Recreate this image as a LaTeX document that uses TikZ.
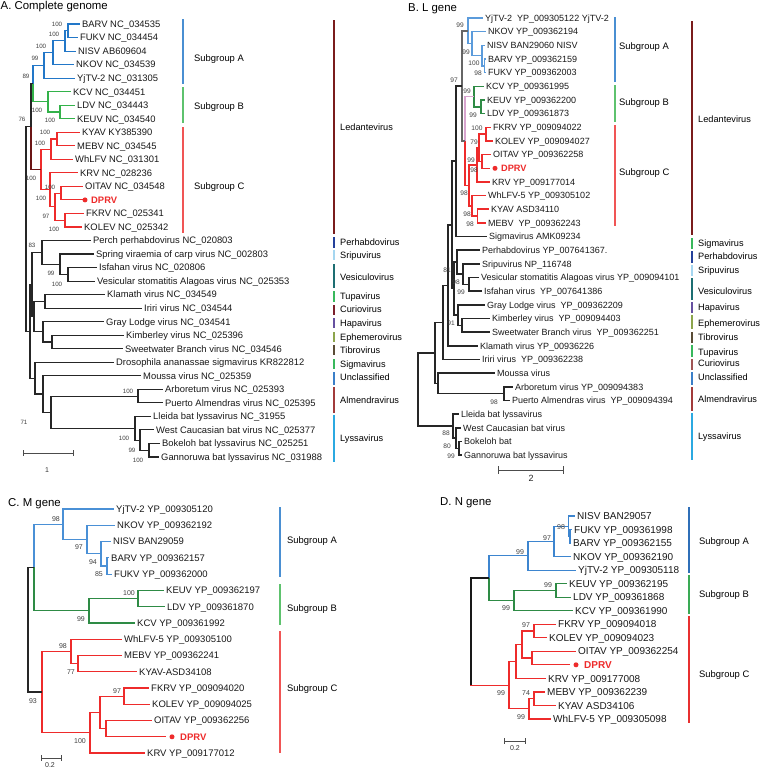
\documentclass[tikz,border=0pt]{standalone}
\usepackage{fontspec}
\setmainfont{Liberation Sans}
\usetikzlibrary{calc}
\definecolor{cAblue}{HTML}{2277C8}
\definecolor{cAgreen}{HTML}{33B24A}
\definecolor{cRed}{HTML}{EE2B2B}
\definecolor{cBrown}{HTML}{6B1515}
\definecolor{cLblue}{HTML}{5B9BDB}
\definecolor{cDgreen}{HTML}{2E8B45}
\definecolor{cPink}{HTML}{D8A5CF}
\definecolor{cCblue}{HTML}{4A90D6}
\definecolor{cDblue}{HTML}{3D85CF}
\definecolor{sbA}{HTML}{4A8FD2}
\definecolor{sbB}{HTML}{5EC26E}
\definecolor{sbC}{HTML}{F05555}
\definecolor{sbAd}{HTML}{2F6FB8}
\definecolor{sbBd}{HTML}{3AAA55}
\definecolor{sbCd}{HTML}{E83030}
\definecolor{gLed}{HTML}{7A1C1C}
\definecolor{gPer}{HTML}{24409A}
\definecolor{gSri}{HTML}{A5D6F0}
\definecolor{gVes}{HTML}{1D6E72}
\definecolor{gTup}{HTML}{38B85C}
\definecolor{gCurA}{HTML}{7B1F2B}
\definecolor{gCurB}{HTML}{A05555}
\definecolor{gHap}{HTML}{6650A0}
\definecolor{gEph}{HTML}{8CA54C}
\definecolor{gTib}{HTML}{5A4C36}
\definecolor{gSig}{HTML}{38B85C}
\definecolor{gUnc}{HTML}{3A7FC8}
\definecolor{gAlm}{HTML}{A23B3B}
\definecolor{gLys}{HTML}{2BA9E1}
\newcommand{\mkclade}[6]{%
  \path ($(#3)!0.5!(#4)$) coordinate (m#1);
  \coordinate (#1) at (#2,0|-m#1);
  \draw[#5] (#1) |- (#3);
  \draw[#6] (#1) |- (#4);
}
\tikzset{
  labA/.style={font=\fontsize{9.4}{11}\selectfont, anchor=west, inner xsep=2pt, inner ysep=0pt, text height=6.75pt, text depth=0pt, text=black!90},
  labB/.style={font=\fontsize{9.0}{11}\selectfont, anchor=west, inner xsep=2pt, inner ysep=0pt, text height=6.45pt, text depth=0pt, text=black!90},
  labC/.style={font=\fontsize{9.5}{11}\selectfont, anchor=west, inner xsep=2pt, inner ysep=0pt, text height=6.8pt, text depth=0pt, text=black!90},
  labD/.style={font=\fontsize{10}{12}\selectfont, anchor=west, inner xsep=2pt, inner ysep=0pt, text height=7.2pt, text depth=0pt, text=black!90},
  dot/.style={circle, fill=cRed, draw=none, minimum size=5pt, inner sep=0pt, outer sep=0pt},
  bsA/.style={font=\fontsize{6.2}{7}\selectfont, text=black!75, inner sep=0pt},
  bsB/.style={font=\fontsize{6.6}{7}\selectfont, text=black!75, inner sep=0pt},
  bsC/.style={font=\fontsize{7}{8}\selectfont, text=black!75, inner sep=0pt},
  ttl/.style={font=\fontsize{11.4}{13}\selectfont, anchor=base west, inner sep=0pt},
  grp/.style={font=\fontsize{9.4}{11}\selectfont, anchor=west, inner sep=0pt, text height=6.75pt, text depth=0pt},
  gLab/.style={font=\fontsize{9.2}{11}\selectfont, anchor=west, inner sep=0pt, text height=6.6pt, text depth=0pt},
  sbar/.style={line width=1.8pt},
  gbar/.style={line width=1.4pt},
  scb/.style={draw=black!70, line width=0.8pt},
  eAk/.style={draw=black!85, line width=1.1pt},
  eAb/.style={draw=cAblue, line width=1.1pt},
  eAg/.style={draw=cAgreen, line width=1.1pt},
  eAr/.style={draw=cRed, line width=1.1pt},
  eAbr/.style={draw=cBrown, line width=1.1pt},
  eBk/.style={draw=black!85, line width=1.5pt},
  eBd/.style={draw=black!60, line width=1.5pt},
  eBb/.style={draw=cLblue, line width=1.5pt},
  eBg/.style={draw=cDgreen, line width=1.5pt},
  eBr/.style={draw=cRed, line width=1.5pt},
  eBp/.style={draw=cPink, line width=1.5pt},
  eCk/.style={draw=black!85, line width=1.2pt},
  eCb/.style={draw=cCblue, line width=1.2pt},
  eCg/.style={draw=cDgreen, line width=1.2pt},
  eCr/.style={draw=cRed, line width=1.2pt},
  eDk/.style={draw=black!90, line width=1.6pt},
  eDb/.style={draw=cDblue, line width=1.2pt},
  eDg/.style={draw=cDgreen, line width=1.2pt},
  eDr/.style={draw=cRed, line width=1.2pt}
}
\begin{document}
\begin{tikzpicture}[x=1pt,y=-1pt]
\useasboundingbox (0,0) rectangle (760,769);
\fill[white] (0,0) rectangle (760,769);

% ================= Panel A =================
\node[ttl] (tA) at (0.5,9.5) {A. Complete genome};
\node[labA] (aBARV) at (80,24.0) {BARV NC\_034535};
\node[labA] (aFUKV) at (78,37.5) {FUKV NC\_034454};
\node[labA] (aNISV) at (76,51.1) {NISV AB609604};
\node[labA] (aNKOV) at (74,64.6) {NKOV NC\_034539};
\node[labA] (aYjTV) at (75,78.1) {YjTV-2 NC\_031305};
\node[labA] (aKCV) at (71,91.7) {KCV NC\_034451};
\node[labA] (aLDV) at (75,105.2) {LDV NC\_034443};
\node[labA] (aKEUV) at (75,118.7) {KEUV NC\_034540};
\node[labA] (aKYAV) at (80,132.2) {KYAV KY385390};
\node[labA] (aMEBV) at (75,145.8) {MEBV NC\_034545};
\node[labA] (aWhLFV) at (73,159.3) {WhLFV NC\_031301};
\node[labA] (aKRV) at (78,172.8) {KRV NC\_028236};
\node[labA] (aOITAV) at (83,186.4) {OITAV NC\_034548};
\node[dot] (aDot) at (85,199.9) {};
\node[labA, text=cRed, font=\fontsize{9.4}{11}\selectfont\bfseries] (aDPRV) at (89,199.9) {DPRV};
\node[labA] (aFKRV) at (84,213.4) {FKRV NC\_025341};
\node[labA] (aKOLEV) at (82,227.0) {KOLEV NC\_025342};
\node[labA] (aPerch) at (91,240.5) {Perch perhabdovirus NC\_020803};
\node[labA] (aSpring) at (94,254.0) {Spring viraemia of carp virus NC\_002803};
\node[labA] (aIsf) at (97,267.5) {Isfahan virus NC\_020806};
\node[labA] (aVes) at (95,281.1) {Vesicular stomatitis Alagoas virus NC\_025353};
\node[labA] (aKlam) at (105,294.6) {Klamath virus NC\_034549};
\node[labA] (aIriri) at (142,308.1) {Iriri virus NC\_034544};
\node[labA] (aGray) at (104,321.7) {Gray Lodge virus NC\_034541};
\node[labA] (aKimb) at (124,335.2) {Kimberley virus NC\_025396};
\node[labA] (aSweet) at (123,348.7) {Sweetwater Branch virus NC\_034546};
\node[labA] (aDros) at (114,362.3) {Drosophila ananassae sigmavirus KR822812};
\node[labA] (aMous) at (141,375.8) {Moussa virus NC\_025359};
\node[labA] (aArb) at (163,389.3) {Arboretum virus NC\_025393};
\node[labA] (aPuer) at (163,402.8) {Puerto Almendras virus NC\_025395};
\node[labA] (aLlei) at (151,416.4) {Lleida bat lyssavirus NC\_31955};
\node[labA] (aWCB) at (154,429.9) {West Caucasian bat virus NC\_025377};
\node[labA] (aBok) at (160,443.4) {Bokeloh bat lyssavirus NC\_025251};
\node[labA] (aGan) at (159,457.0) {Gannoruwa bat lyssavirus NC\_031988};

\mkclade{aBF}{68}{aBARV.west}{aFUKV.west}{eAb}{eAb}
\mkclade{aBFN}{65}{aBF}{aNISV.west}{eAb}{eAb}
\mkclade{aBFNK}{53}{aBFN}{aNKOV.west}{eAb}{eAb}
\mkclade{aA}{44}{aBFNK}{aYjTV.west}{eAb}{eAb}
\mkclade{aLK}{60}{aLDV.west}{aKEUV.west}{eAg}{eAg}
\mkclade{aB}{48}{aKCV.west}{aLK}{eAg}{eAg}
\mkclade{aAB}{33}{aA}{aB}{eAb}{eAg}
\mkclade{aKM}{57}{aKYAV.west}{aMEBV.west}{eAr}{eAr}
\mkclade{aKMW}{51}{aKM}{aWhLFV.west}{eAr}{eAr}
\mkclade{aOD}{61}{aOITAV.west}{aDot.west}{eAr}{eAr}
\mkclade{aFK}{65}{aFKRV.west}{aKOLEV.west}{eAr}{eAr}
\mkclade{aODFK}{55}{aOD}{aFK}{eAr}{eAr}
\mkclade{aKO}{50}{aKRV.west}{aODFK}{eAr}{eAr}
\mkclade{aC}{41}{aKMW}{aKO}{eAr}{eAr}
\mkclade{aLed}{31}{aAB}{aC}{eAk}{eAbr}
\mkclade{aIV}{68}{aIsf.west}{aVes.west}{eAk}{eAk}
\mkclade{aSIV}{60}{aSpring.west}{aIV}{eAk}{eAk}
\mkclade{aPSIV}{42}{aPerch.west}{aSIV}{eAk}{eAk}
\mkclade{aKI}{45}{aKlam.west}{aIriri.west}{eAk}{eAk}
\mkclade{aKS}{52}{aKimb.west}{aSweet.west}{eAk}{eAk}
\mkclade{aGKS}{43}{aGray.west}{aKS}{eAk}{eAk}
\mkclade{aKG}{34}{aKI}{aGKS}{eAk}{eAk}
\mkclade{aPK}{32}{aPSIV}{aKG}{eAk}{eAk}
\mkclade{aAP}{138}{aArb.west}{aPuer.west}{eAk}{eAk}
\mkclade{aBG}{149}{aBok.west}{aGan.west}{eAk}{eAk}
\mkclade{aWBG}{140}{aWCB.west}{aBG}{eAk}{eAk}
\mkclade{aLy}{135}{aLlei.west}{aWBG}{eAk}{eAk}
\mkclade{aAL}{51}{aAP}{aLy}{eAk}{eAk}
\mkclade{aML}{43}{aMous.west}{aAL}{eAk}{eAk}
\mkclade{aDML}{35}{aDros.west}{aML}{eAk}{eAk}
\mkclade{aRest}{30}{aPK}{aDML}{eAk}{eAk}
\mkclade{aTop}{26}{aLed}{aRest}{eAk}{eAk}

\node[bsA] (ab1) at (57,24) {100};
\node[bsA] (ab2) at (54,34) {100};
\node[bsA] (ab3) at (41,46) {100};
\node[bsA] (ab4) at (35,58) {99};
\node[bsA] (ab5) at (26,76) {89};
\node[bsA] (ab6) at (37,110) {100};
\node[bsA] (ab7) at (50,120) {100};
\node[bsA] (ab8) at (22,119) {76};
\node[bsA] (ab9) at (45,132) {100};
\node[bsA] (ab10) at (40,143) {100};
\node[bsA] (ab11) at (31,178) {100};
\node[bsA] (ab12) at (50,187) {100};
\node[bsA] (ab13) at (41,198) {100};
\node[bsA] (ab14) at (46,216) {97};
\node[bsA] (ab15) at (54,229) {100};
\node[bsA] (ab16) at (32,245) {83};
\node[bsA] (ab17) at (51,273) {99};
\node[bsA] (ab18) at (57,284) {100};
\node[bsA] (ab19) at (128,391) {100};
\node[bsA] (ab20) at (24,422) {71};
\node[bsA] (ab21) at (124,438) {100};
\node[bsA] (ab22) at (132,450) {99};
\node[bsA] (ab23) at (138,460) {100};

% scale A
\coordinate (sA1) at (23,453); \coordinate (sA2) at (73,453);
\draw[scb] (sA1) -- (sA2);
\draw[scb] ($(sA1)+(0,-3)$) -- ($(sA1)+(0,3)$);
\draw[scb] ($(sA2)+(0,-3)$) -- ($(sA2)+(0,3)$);
\node[font=\fontsize{7}{8}\selectfont, text=black!80, inner sep=0pt] (sAl) at (47,470) {1};

% groups A
\draw[sbar,sbA] (183,19) -- (183,84);
\node[grp] (aSA) at (194,58) {Subgroup A};
\draw[sbar,sbB] (183,87) -- (183,123);
\node[grp] (aSB) at (194,106) {Subgroup B};
\draw[sbar,sbC] (183,127) -- (183,233);
\node[grp] (aSC) at (194,186) {Subgroup C};
\draw[gbar,gLed] (334,20) -- (334,234);
\node[gLab] (aGled) at (340,127) {Ledantevirus};
\draw[gbar,gPer] (334,237) -- (334,248);
\node[gLab] (aG1) at (340,242.5) {Perhabdovirus};
\draw[gbar,gSri] (334,249.5) -- (334,260);
\node[gLab] (aG2) at (340,255) {Sripuvirus};
\draw[gbar,gVes] (334,264) -- (334,288);
\node[gLab] (aG3) at (340,277) {Vesiculovirus};
\draw[gbar,gTup] (334,291) -- (334,302);
\node[gLab] (aG4) at (340,296) {Tupavirus};
\draw[gbar,gCurA] (334,305) -- (334,315);
\node[gLab] (aG5) at (340,309.5) {Curiovirus};
\draw[gbar,gHap] (334,318) -- (334,328);
\node[gLab] (aG6) at (340,323) {Hapavirus};
\draw[gbar,gEph] (334,332) -- (334,342);
\node[gLab] (aG7) at (340,337) {Ephemerovirus};
\draw[gbar,gTib] (334,345) -- (334,355);
\node[gLab] (aG8) at (340,350) {Tibrovirus};
\draw[gbar,gSig] (334,359) -- (334,369);
\node[gLab] (aG9) at (340,364) {Sigmavirus};
\draw[gbar,gUnc] (334,372) -- (334,385);
\node[gLab] (aG10) at (340,377) {Unclassified};
\draw[gbar,gAlm] (334,387) -- (334,413);
\node[gLab] (aG11) at (340,400) {Almendravirus};
\draw[gbar,gLys] (334,415) -- (334,462);
\node[gLab] (aG12) at (340,438) {Lyssavirus};

% ================= Panel B =================
\node[ttl] (tB) at (408,11) {B. L gene};
\node[labB] (bYjTV) at (483,18.0) {YjTV-2\ \ YP\_009305122 YjTV-2};
\node[labB] (bNKOV) at (486,31.7) {NKOV YP\_009362194};
\node[labB] (bNISV) at (485,45.3) {NISV BAN29060 NISV};
\node[labB] (bBARV) at (486,59.0) {BARV YP\_009362159};
\node[labB] (bFUKV) at (486,72.6) {FUKV YP\_009362003};
\node[labB] (bKCV) at (484,86.3) {KCV YP\_009361995};
\node[labB] (bKEUV) at (485,100.0) {KEUV YP\_009362200};
\node[labB] (bLDV) at (485,113.6) {LDV YP\_009361873};
\node[labB] (bFKRV) at (491,127.3) {FKRV YP\_009094022};
\node[labB] (bKOLEV) at (493,140.9) {KOLEV YP\_009094027};
\node[labB] (bOITAV) at (491,154.6) {OITAV YP\_009362258};
\node[dot, outer sep=2.5pt] (bDot) at (495,168.3) {};
\node[labB, text=cRed, font=\fontsize{9.2}{11}\selectfont\bfseries] (bDPRV) at (499,168.3) {DPRV};
\node[labB] (bKRV) at (490,181.9) {KRV YP\_009177014};
\node[labB] (bWhLFV) at (486,195.6) {WhLFV-5 YP\_009305102};
\node[labB] (bKYAV) at (489,209.2) {KYAV ASD34110};
\node[labB] (bMEBV) at (486,222.9) {MEBV\ \ YP\_009362243};
\node[labB] (bSigma) at (487,236.6) {Sigmavirus AMK09234};
\node[labB] (bPerh) at (480,250.2) {Perhabdovirus YP\_007641367.};
\node[labB] (bSrip) at (480,263.9) {Sripuvirus NP\_116748};
\node[labB] (bVes) at (479,277.5) {Vesicular stomatitis Alagoas virus YP\_009094101};
\node[labB] (bIsf) at (482,291.2) {Isfahan virus\ \ YP\_007641386};
\node[labB] (bGray) at (485,304.8) {Gray Lodge virus\ \ YP\_009362209};
\node[labB] (bKimb) at (490,318.5) {Kimberley virus\ \ YP\_009094403};
\node[labB] (bSweet) at (490,332.2) {Sweetwater Branch virus\ \ YP\_009362251};
\node[labB] (bKlam) at (478,345.8) {Klamath virus YP\_00936226};
\node[labB] (bIriri) at (480,359.5) {Iriri virus\ \ YP\_009362238};
\node[labB] (bMous) at (495,373.1) {Moussa virus};
\node[labB] (bArb) at (513,386.8) {Arboretum virus YP\_009094383};
\node[labB] (bPuer) at (510,400.4) {Puerto Almendras virus\ \ YP\_009094394};
\node[labB] (bLlei) at (459,414.1) {Lleida bat lyssavirus};
\node[labB] (bWCB) at (461,427.8) {West Caucasian bat virus};
\node[labB] (bBok) at (462,441.4) {Bokeloh bat};
\node[labB] (bGan) at (462,455.1) {Gannoruwa bat lyssavirus};

\mkclade{bBF}{484.5}{bBARV.west}{bFUKV.west}{eBb}{eBb}
\mkclade{bNBF}{482}{bNISV.west}{bBF}{eBb}{eBb}
\mkclade{bKN}{472}{bNKOV.west}{bNBF}{eBb}{eBb}
\mkclade{bA}{468}{bYjTV.west}{bKN}{eBb}{eBb}
\mkclade{bKL}{481}{bKEUV.west}{bLDV.west}{eBg}{eBg}
\mkclade{bB}{474}{bKCV.west}{bKL}{eBg}{eBg}
\mkclade{bFK}{486}{bFKRV.west}{bKOLEV.west}{eBr}{eBr}
\mkclade{bOD}{482}{bOITAV.west}{bDot.west}{eBr}{eBr}
\mkclade{bFKOD}{479}{bFK}{bOD}{eBr}{eBr}
\mkclade{bFOK}{477}{bFKOD}{bKRV.west}{eBr}{eBr}
\mkclade{bKM}{477.5}{bKYAV.west}{bMEBV.west}{eBr}{eBr}
\mkclade{bWKM}{472}{bWhLFV.west}{bKM}{eBr}{eBr}
\mkclade{bC}{469}{bFOK}{bWKM}{eBr}{eBr}
\mkclade{bBC}{465}{bB}{bC}{eBp}{eBr}
\mkclade{bLed}{462}{bA}{bBC}{eBd}{eBd}
\mkclade{bLS}{456}{bLed}{bSigma.west}{eBk}{eBk}
\mkclade{bVI}{469}{bVes.west}{bIsf.west}{eBk}{eBk}
\mkclade{bSVI}{463}{bSrip.west}{bVI}{eBk}{eBk}
\mkclade{bPSVI}{457}{bPerh.west}{bSVI}{eBk}{eBk}
\mkclade{bKS}{462}{bKimb.west}{bSweet.west}{eBk}{eBk}
\mkclade{bGKS}{458}{bGray.west}{bKS}{eBk}{eBk}
\mkclade{bPG}{454}{bPSVI}{bGKS}{eBk}{eBk}
\mkclade{bLSPG}{452}{bLS}{bPG}{eBk}{eBk}
\mkclade{bKl}{448}{bLSPG}{bKlam.west}{eBk}{eBk}
\mkclade{bIr}{443}{bKl}{bIriri.west}{eBk}{eBk}
\mkclade{bAP}{504}{bArb.west}{bPuer.west}{eBk}{eBk}
\mkclade{bMoAP}{438}{bMous.west}{bAP}{eBk}{eBk}
\mkclade{bX}{435}{bIr}{bMoAP}{eBk}{eBk}
\mkclade{bBG}{459}{bBok.west}{bGan.west}{eBk}{eBk}
\mkclade{bWBG}{456}{bWCB.west}{bBG}{eBk}{eBk}
\mkclade{bLy}{453}{bLlei.west}{bWBG}{eBk}{eBk}
\mkclade{bRoot}{418}{bX}{bLy}{eBk}{eBk}

\node[bsB] (bb1) at (460,25) {99};
\node[bsB] (bb2) at (466,52) {99};
\node[bsB] (bb3) at (474,63) {100};
\node[bsB] (bb4) at (478,73) {98};
\node[bsB] (bb5) at (454,80) {97};
\node[bsB] (bb6) at (467,91) {99};
\node[bsB] (bb7) at (473,115) {99};
\node[bsB] (bb8) at (477,128) {100};
\node[bsB] (bb9) at (474,142) {79};
\node[bsB] (bb10) at (471,160) {99};
\node[bsB] (bb11) at (474,170) {98};
\node[bsB] (bb12) at (464,193) {98};
\node[bsB] (bb13) at (467,214) {98};
\node[bsB] (bb14) at (470,224) {98};
\node[bsB] (bb15) at (447,270) {81};
\node[bsB] (bb16) at (456,282) {98};
\node[bsB] (bb17) at (461,292) {99};
\node[bsB] (bb18) at (451,323) {91};
\node[bsB] (bb19) at (494,402) {98};
\node[bsB] (bb20) at (446,433) {88};
\node[bsB] (bb21) at (447,446) {80};
\node[bsB] (bb22) at (451,456) {99};

% scale B
\coordinate (sB1) at (498,470); \coordinate (sB2) at (563,470);
\draw[scb] (sB1) -- (sB2);
\draw[scb] ($(sB1)+(0,-4)$) -- ($(sB1)+(0,4)$);
\draw[scb] ($(sB2)+(0,-4)$) -- ($(sB2)+(0,4)$);
\node[font=\fontsize{9}{10}\selectfont, text=black!85, inner sep=0pt] (sBl) at (531,478) {2};

% groups B
\draw[sbar,sbA] (615,17) -- (615,82);
\node[grp] (bSA) at (619,46) {Subgroup A};
\draw[sbar,sbB] (615,85) -- (615,122);
\node[grp] (bSB) at (619,102) {Subgroup B};
\draw[sbar,sbC] (615,125) -- (615,226);
\node[grp] (bSC) at (619,172) {Subgroup C};
\draw[gbar,gLed] (692,21) -- (692,235);
\node[gLab] (bGled) at (698,119) {Ledantevirus};
\draw[gbar,gSig] (692,238) -- (692,249);
\node[gLab] (bG1) at (698,243) {Sigmavirus};
\draw[gbar,gPer] (692,251) -- (692,263);
\node[gLab] (bG2) at (698,256) {Perhabdovirus};
\draw[gbar,gSri] (692,265) -- (692,276);
\node[gLab] (bG3) at (698,270) {Sripuvirus};
\draw[gbar,gVes] (692,278) -- (692,300);
\node[gLab] (bG4) at (698,291) {Vesiculovirus};
\draw[gbar,gHap] (692,302) -- (692,313);
\node[gLab] (bG5) at (698,307) {Hapavirus};
\draw[gbar,gEph] (692,315) -- (692,329);
\node[gLab] (bG6) at (698,323) {Ephemerovirus};
\draw[gbar,gTib] (692,332) -- (692,343);
\node[gLab] (bG7) at (698,337) {Tibrovirus};
\draw[gbar,gTup] (692,345) -- (692,357);
\node[gLab] (bG8) at (698,352) {Tupavirus};
\draw[gbar,gCurB] (692,359) -- (692,370);
\node[gLab] (bG9) at (698,363) {Curiovirus};
\draw[gbar,gUnc] (692,372) -- (692,385);
\node[gLab] (bG10) at (698,377) {Unclassified};
\draw[gbar,gAlm] (692,387) -- (692,411);
\node[gLab] (bG11) at (698,399) {Almendravirus};
\draw[gbar,gLys] (692,413) -- (692,460);
\node[gLab] (bG12) at (698,436) {Lyssavirus};

% ================= Panel C =================
\node[ttl] (tC) at (8,506) {C. M gene};
\node[labC] (cYjTV) at (114,509.0) {YjTV-2 YP\_009305120};
\node[labC] (cNKOV) at (115,525.3) {NKOV YP\_009362192};
\node[labC] (cNISV) at (111,541.5) {NISV BAN29059};
\node[labC] (cBARV) at (109,557.8) {BARV YP\_009362157};
\node[labC] (cFUKV) at (112,574.1) {FUKV YP\_009362000};
\node[labC] (cKEUV) at (164,590.4) {KEUV YP\_009362197};
\node[labC] (cLDV) at (165,606.6) {LDV YP\_009361870};
\node[labC] (cKCV) at (135,622.9) {KCV YP\_009361992};
\node[labC] (cWhLFV) at (122,639.2) {WhLFV-5 YP\_009305100};
\node[labC] (cMEBV) at (122,655.4) {MEBV YP\_009362241};
\node[labC] (cKYAV) at (137,671.7) {KYAV-ASD34108};
\node[labC] (cFKRV) at (149,688.0) {FKRV YP\_009094020};
\node[labC] (cKOLEV) at (150,704.2) {KOLEV YP\_009094025};
\node[labC] (cOITAV) at (152,720.5) {OITAV YP\_009362256};
\node[dot, outer sep=4pt] (cDot) at (172,736.8) {};
\node[labC, text=cRed, font=\fontsize{9.5}{11}\selectfont\bfseries] (cDPRV) at (178,736.8) {DPRV};
\node[labC] (cKRV) at (145,753.0) {KRV YP\_009177012};

\mkclade{cBF}{107}{cBARV.west}{cFUKV.west}{eCb}{eCb}
\mkclade{cNBF}{101}{cNISV.west}{cBF}{eCb}{eCb}
\mkclade{cKN}{87}{cNKOV.west}{cNBF}{eCb}{eCb}
\mkclade{cA}{63}{cYjTV.west}{cKN}{eCb}{eCb}
\mkclade{cKL}{138}{cKEUV.west}{cLDV.west}{eCg}{eCg}
\mkclade{cB}{89}{cKL}{cKCV.west}{eCg}{eCg}
\mkclade{cAB}{34}{cA}{cB}{eCb}{eCg}
\mkclade{cMK}{78}{cMEBV.west}{cKYAV.west}{eCr}{eCr}
\mkclade{cWMK}{71}{cWhLFV.west}{cMK}{eCr}{eCr}
\mkclade{cFK}{124}{cFKRV.west}{cKOLEV.west}{eCr}{eCr}
\mkclade{cOD}{106}{cOITAV.west}{cDot.west}{eCr}{eCr}
\mkclade{cFKOD}{100}{cFK}{cOD}{eCr}{eCr}
\mkclade{cFOK}{90}{cFKOD}{cKRV.west}{eCr}{eCr}
\mkclade{cC}{42}{cWMK}{cFOK}{eCr}{eCr}
\mkclade{cRoot}{28}{cAB}{cC}{eCk}{eCk}

\node[bsC] (cb1) at (56,519) {98};
\node[bsC] (cb2) at (79,547) {97};
\node[bsC] (cb3) at (93,562) {94};
\node[bsC] (cb4) at (99,574) {85};
\node[bsC] (cb5) at (129,593) {100};
\node[bsC] (cb6) at (81,619) {99};
\node[bsC] (cb7) at (63,646) {98};
\node[bsC] (cb8) at (71,672) {77};
\node[bsC] (cb9) at (117,691) {97};
\node[bsC] (cb10) at (33,701) {93};
\node[bsC] (cb11) at (80,741) {100};

\coordinate (sC1) at (41,758); \coordinate (sC2) at (61,758);
\draw[scb] (sC1) -- (sC2);
\draw[scb] ($(sC1)+(0,-3)$) -- ($(sC1)+(0,3)$);
\draw[scb] ($(sC2)+(0,-3)$) -- ($(sC2)+(0,3)$);
\node[font=\fontsize{7}{8}\selectfont, text=black!80, inner sep=0pt] (sCl) at (50,765) {0.2};

\draw[sbar,sbA] (280,507) -- (280,577);
\node[grp] (cSA) at (287,540) {Subgroup A};
\draw[sbar,sbB] (280,584) -- (280,625);
\node[grp] (cSB) at (287,608) {Subgroup B};
\draw[sbar,sbC] (280,631) -- (280,753);
\node[grp] (cSC) at (287,688) {Subgroup C};

% ================= Panel D =================
\node[ttl] (tD) at (440,505.5) {D. N gene};
\node[labD] (dNISV) at (575,516.0) {NISV BAN29057};
\node[labD] (dFUKV) at (572,529.5) {FUKV YP\_009361998};
\node[labD] (dBARV) at (571,543.1) {BARV YP\_009362155};
\node[labD] (dNKOV) at (571,556.6) {NKOV YP\_009362190};
\node[labD] (dYjTV) at (576,570.1) {YjTV-2 YP\_009305118};
\node[labD] (dKEUV) at (567,583.7) {KEUV YP\_009362195};
\node[labD] (dLDV) at (571,597.2) {LDV YP\_009361868};
\node[labD] (dKCV) at (573,610.7) {KCV YP\_009361990};
\node[labD] (dFKRV) at (556,624.2) {FKRV YP\_009094018};
\node[labD] (dKOLEV) at (547,637.8) {KOLEV YP\_009094023};
\node[labD] (dOITAV) at (576,651.3) {OITAV YP\_009362254};
\node[dot, outer sep=3.5pt] (dDot) at (576,664.8) {};
\node[labD, text=cRed, font=\fontsize{10}{12}\selectfont\bfseries] (dDPRV) at (582,664.8) {DPRV};
\node[labD] (dKRV) at (546,678.4) {KRV YP\_009177008};
\node[labD] (dMEBV) at (545,691.9) {MEBV YP\_009362239};
\node[labD] (dKYAV) at (556,705.4) {KYAV ASD34106};
\node[labD] (dWhLFV) at (551,719.0) {WhLFV-5 YP\_009305098};

\mkclade{dFB}{570}{dFUKV.west}{dBARV.west}{eDb}{eDb}
\mkclade{dNFB}{568.5}{dNISV.west}{dFB}{eDb}{eDb}
\mkclade{dNK}{554}{dNFB}{dNKOV.west}{eDb}{eDb}
\mkclade{dA}{528}{dNK}{dYjTV.west}{eDb}{eDb}
\mkclade{dKL}{556}{dKEUV.west}{dLDV.west}{eDg}{eDg}
\mkclade{dB}{514}{dKL}{dKCV.west}{eDg}{eDg}
\mkclade{dAB}{489}{dA}{dB}{eDb}{eDg}
\mkclade{dFK}{534}{dFKRV.west}{dKOLEV.west}{eDr}{eDr}
\mkclade{dOD}{532}{dOITAV.west}{dDot.west}{eDr}{eDr}
\mkclade{dFKOD}{522}{dFK}{dOD}{eDr}{eDr}
\mkclade{dFOK}{516}{dFKOD}{dKRV.west}{eDr}{eDr}
\mkclade{dMK}{534}{dMEBV.west}{dKYAV.west}{eDr}{eDr}
\mkclade{dMKW}{529}{dMK}{dWhLFV.west}{eDr}{eDr}
\mkclade{dC}{509}{dFOK}{dMKW}{eDr}{eDr}
\mkclade{dRoot}{471}{dAB}{dC}{eDk}{eDr}
\draw[eDk] (dRoot) -- (dRoot|-dC);

\node[bsC] (db1) at (561,527) {98};
\node[bsC] (db2) at (547,538) {97};
\node[bsC] (db3) at (520,552) {99};
\node[bsC] (db4) at (548,585) {99};
\node[bsC] (db5) at (506,608) {99};
\node[bsC] (db6) at (526,625) {97};
\node[bsC] (db7) at (526,693) {74};
\node[bsC] (db8) at (501,693) {99};
\node[bsC] (db9) at (521,717) {99};

\coordinate (sD1) at (504,741); \coordinate (sD2) at (525,741);
\draw[scb] (sD1) -- (sD2);
\draw[scb] ($(sD1)+(0,-3)$) -- ($(sD1)+(0,3)$);
\draw[scb] ($(sD2)+(0,-3)$) -- ($(sD2)+(0,3)$);
\node[font=\fontsize{7}{8}\selectfont, text=black!80, inner sep=0pt] (sDl) at (515,748.5) {0.2};

\draw[sbar,sbAd] (689,507) -- (689,573);
\node[grp] (dSA) at (699,541) {Subgroup A};
\draw[sbar,sbBd] (689,575) -- (689,614);
\node[grp] (dSB) at (699,594) {Subgroup B};
\draw[sbar,sbCd] (689,616) -- (689,723);
\node[grp] (dSC) at (699,674) {Subgroup C};
\end{tikzpicture}
\end{document}
